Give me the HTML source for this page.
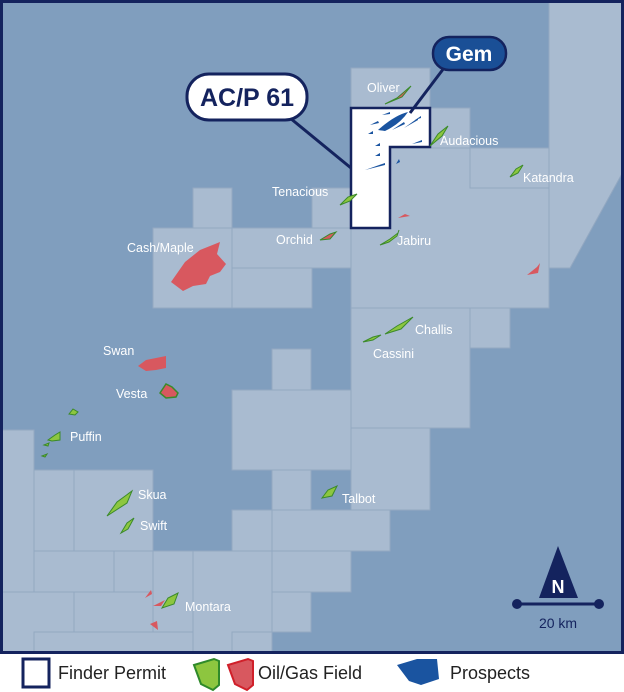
<!DOCTYPE html>
<html><head><meta charset="utf-8"><style>
html,body{margin:0;padding:0;background:#fff}
svg{display:block}
.l{fill:#fff;font-family:"Liberation Sans",sans-serif;font-size:12.5px}
</style></head><body>
<svg width="624" height="692" viewBox="0 0 624 692" xmlns="http://www.w3.org/2000/svg">
<rect x="0" y="0" width="624" height="654" fill="#809ebe"/>
<g fill="#a9bbd0" stroke="#93a8c1" stroke-width="1">
<rect x="351" y="68" width="79" height="40"/>
<rect x="430" y="108" width="40" height="40"/>
<rect x="351" y="148" width="198" height="160"/>
<rect x="470" y="148" width="79" height="40"/>
<polygon points="549,0 624,0 624,170 570,268 549,268"/>
<rect x="312" y="188" width="39" height="40"/>
<rect x="193" y="188" width="39" height="40"/>
<rect x="153" y="228" width="79" height="80"/>
<rect x="232" y="228" width="119" height="40"/>
<rect x="232" y="268" width="80" height="40"/>
<rect x="351" y="308" width="119" height="120"/>
<rect x="470" y="308" width="40" height="40"/>
<rect x="272" y="349" width="39" height="41"/>
<rect x="232" y="390" width="119" height="80"/>
<rect x="351" y="428" width="79" height="82"/>
<rect x="272" y="470" width="39" height="40"/>
<rect x="272" y="510" width="118" height="41"/>
<rect x="232" y="510" width="40" height="41"/>
<rect x="232" y="551" width="119" height="41"/>
<rect x="232" y="592" width="79" height="40"/>
<rect x="0" y="430" width="34" height="162"/>
<rect x="34" y="470" width="40" height="81"/>
<rect x="74" y="470" width="79" height="81"/>
<rect x="153" y="551" width="79" height="102"/>
<rect x="193" y="551" width="79" height="102"/>
<rect x="34" y="551" width="80" height="41"/>
<rect x="114" y="551" width="39" height="41"/>
<rect x="0" y="592" width="74" height="61"/>
<rect x="74" y="592" width="79" height="40"/>
<rect x="34" y="632" width="159" height="21"/>
<rect x="232" y="632" width="40" height="21"/>
</g>
<!-- permit -->
<polygon points="351,108 430,108 430,147 390,147 390,228 351,228" fill="#fff" stroke="#14235e" stroke-width="2.5"/>
<!-- prospects -->
<g fill="#1a54a0">
<path d="M378,130 Q395,115 408,112 Q400,124 385,131 Z"/>
<path d="M370,125 l8,-4 l1,2 z M382,115 l8,-3 l0,2 z M392,130 l12,-8 l1,2 z M404,128 l14,-10 l0,2 z M412,144 l10,-4 l0,2 z M368,134 l5,-3 l0,3z M375,146 l5,-3 l0,3z M375,156 l5,-3 l0,3z M365,170 l20,-7 l0,2z M396,164 l3,-5 l1,3z M415,120 l6,-4 l0,2z"/>
</g>
<!-- callouts -->
<line x1="290" y1="118" x2="351" y2="168" stroke="#14235e" stroke-width="3"/>
<line x1="444" y1="68" x2="410" y2="113" stroke="#14235e" stroke-width="3"/>
<rect x="187" y="74" width="120" height="46" rx="22" fill="#fff" stroke="#14235e" stroke-width="3"/>
<text x="247" y="106" text-anchor="middle" font-family="Liberation Sans,sans-serif" font-weight="bold" font-size="25" fill="#14235e">AC/P 61</text>
<rect x="433" y="37" width="73" height="33" rx="16" fill="#1a4f96" stroke="#14235e" stroke-width="2.5"/>
<text x="469" y="61" text-anchor="middle" font-family="Liberation Sans,sans-serif" font-weight="bold" font-size="21" fill="#fff">Gem</text>
<!-- fields -->
<g fill="#8dc63f" stroke="#3b8a2a" stroke-width="1">
<path d="M430,146 l8,-12 l10,-8 l-6,10 z"/>
<path d="M510,177 l6,-8 l7,-4 l-5,8 z"/>
<path d="M340,205 l8,-8 l9,-3 l-7,7 z"/>
<path d="M380,245 l10,-6 l8,-6 l1,-3 l-2,6 l-8,6 z"/>
<path d="M385,334 l12,-8 l16,-9 l-12,12 z"/>
<path d="M363,342 l10,-5 l8,-2 l-8,5 z"/>
<path d="M69,414 l4,-5 l5,3 l-3,3 z"/>
<path d="M48,440 l7,-5 l5,-3 l0,8 l-8,1 z M44,445 l5,-2 l-1,3 z M42,456 l5,-2 l-2,3 z"/>
<path d="M107,516 l10,-14 l15,-11 l-5,12 z"/>
<path d="M121,533 l6,-10 l7,-5 l-6,11 z"/>
<path d="M162,608 l6,-10 l10,-5 l-4,11 z"/>
<path d="M322,498 l6,-8 l9,-4 l-5,10 z"/>
</g>
<g fill="#d8585f">
<path d="M385,104 l12,-6 l14,-12 l-9,11 z" stroke="#3b8a2a" stroke-width="1"/>
<path d="M171,282 l14,-20 l15,-12 l20,-8 l-3,12 l9,10 l-6,8 l-10,4 l-4,8 l-13,2 l-10,5 z"/>
<path d="M320,240 l10,-6 l6,-2 l-6,7 z" stroke="#3b8a2a" stroke-width="1"/>
<path d="M398,218 l7,-4 l5,2 z"/>
<path d="M527,275 l10,-8 l3,-4 l-2,10 z"/>
<path d="M138,366 l8,-6 l20,-4 l0,12 l-10,2 l-10,1 z"/>
<path d="M160,393 l6,-9 l6,3 l6,6 l-2,4 l-10,1 z" stroke="#3b8a2a" stroke-width="1.5"/>
<path d="M145,598 l6,-8 l1,4 z M153,606 l12,-6 l-4,6 z M150,624 l7,-3 l1,9 z"/>
</g>
<!-- labels -->
<text class="l" x="367" y="92">Oliver</text>
<text class="l" x="440" y="145">Audacious</text>
<text class="l" x="523" y="182">Katandra</text>
<text class="l" x="272" y="196">Tenacious</text>
<text class="l" x="276" y="244">Orchid</text>
<text class="l" x="397" y="245">Jabiru</text>
<text class="l" x="127" y="252">Cash/Maple</text>
<text class="l" x="415" y="334">Challis</text>
<text class="l" x="373" y="358">Cassini</text>
<text class="l" x="103" y="355">Swan</text>
<text class="l" x="116" y="398">Vesta</text>
<text class="l" x="70" y="441">Puffin</text>
<text class="l" x="138" y="499">Skua</text>
<text class="l" x="140" y="530">Swift</text>
<text class="l" x="342" y="503">Talbot</text>
<text class="l" x="185" y="611">Montara</text>
<!-- north -->
<polygon points="558,546 539,598 578,598" fill="#14235e"/>
<text x="558" y="593" text-anchor="middle" font-family="Liberation Sans,sans-serif" font-weight="bold" font-size="18" fill="#fff">N</text>
<line x1="517" y1="604" x2="599" y2="604" stroke="#14235e" stroke-width="3"/>
<circle cx="517" cy="604" r="5" fill="#14235e"/><circle cx="599" cy="604" r="5" fill="#14235e"/>
<text x="558" y="628" text-anchor="middle" font-family="Liberation Sans,sans-serif" font-size="14" fill="#14235e">20 km</text>
<rect x="1.5" y="1.5" width="621" height="651" fill="none" stroke="#14235e" stroke-width="3"/>
<!-- legend -->
<rect x="23" y="659" width="26" height="28" fill="#fff" stroke="#14235e" stroke-width="3"/>
<text x="58" y="679" font-family="Liberation Sans,sans-serif" font-size="18" fill="#222">Finder Permit</text>
<path d="M194,665 l20,-6 l5,2 l0,24 l-6,5 l-12,-6 z" fill="#8dc63f" stroke="#2f8a2a" stroke-width="2"/>
<path d="M228,665 l20,-6 l5,2 l0,24 l-6,5 l-12,-6 z" fill="#d8585f" stroke="#d0202a" stroke-width="2"/>
<text x="258" y="679" font-family="Liberation Sans,sans-serif" font-size="18" fill="#222">Oil/Gas Field</text>
<path d="M397,665 l20,-6 l20,0 l2,20 l-18,6 l-12,-4 z" fill="#1a54a0"/>
<text x="450" y="679" font-family="Liberation Sans,sans-serif" font-size="18" fill="#222">Prospects</text>
</svg>
</body></html>
